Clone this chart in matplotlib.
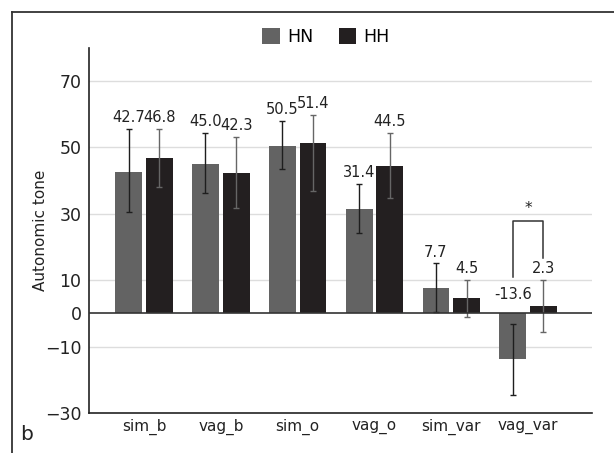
import matplotlib
matplotlib.use('Agg')
import matplotlib.pyplot as plt
from matplotlib.lines import Line2D
import numpy as np

# autonomic tone, HN vs HH groups
categories = ['sim_b', 'vag_b', 'sim_o', 'vag_o', 'sim_var', 'vag_var']
hn = [42.7, 45.0, 50.5, 31.4, 7.7, -13.6]
hn_err_hi = [12.8, 9.3, 7.5, 7.7, 7.4, 10.4]
hn_err_lo = [12.2, 8.9, 7.0, 7.1, 7.4, 10.9]
hh = [46.8, 42.3, 51.4, 44.5, 4.5, 2.3]
hh_err_hi = [8.7, 10.9, 8.3, 9.9, 5.6, 7.8]
hh_err_lo = [8.7, 10.6, 14.5, 9.8, 5.5, 8.0]
yticks = [-30, -10, 0, 10, 30, 50, 70]

plt.rcParams['font.family'] = 'DejaVu Sans'

fig = plt.figure(figsize=(6.14, 4.53), dpi=100)
ax = fig.add_axes([0.145, 0.0883, 0.819, 0.8064])

x = np.arange(len(categories))
w = 0.35
off = 0.2

ax.bar(x - off, hn, w, color='#636363', label='HN', zorder=2)
ax.bar(x + off, hh, w, color='#231f20', label='HH', zorder=2)
ax.errorbar(x - off, hn, yerr=[hn_err_lo, hn_err_hi], fmt='none',
            ecolor='#1e1e1e', elinewidth=1.0, capsize=2.2, capthick=1.0, zorder=3)
ax.errorbar(x + off, hh, yerr=[hh_err_lo, hh_err_hi], fmt='none',
            ecolor='#666666', elinewidth=1.0, capsize=2.2, capthick=1.0, zorder=3)

# value labels above the error bars
for xs, vals, hi in [(x - off, hn, hn_err_hi), (x + off, hh, hh_err_hi)]:
    for xi, v, e in zip(xs, vals, hi):
        if v >= 0:
            ax.annotate(f'{v:.1f}', (xi, v + e), xytext=(0, 4.8),
                        textcoords='offset points', ha='center', va='baseline',
                        fontsize=10.5, color='#222222')
        else:
            ax.annotate(f'{v:.1f}', (xi, 0), xytext=(0, 10),
                        textcoords='offset points', ha='center', va='baseline',
                        fontsize=10.5, color='#222222')

# significance bracket on vag_var
xl, xr = x[-1] - off, x[-1] + off
ax.plot([xl, xl, xr, xr], [10.9, 27.7, 27.7, 16.6], color='#333333', lw=1.1, zorder=3)
ax.text(x[-1], 31.5, '*', ha='center', va='center', fontsize=11, color='#222222')

ax.set_xlim(-0.716, 5.83)
ax.set_ylim(-30, 80)
ax.set_yticks(yticks)
ax.set_xticks(x)
ax.set_xticklabels(categories, fontsize=11, color='#222222')
ax.tick_params(axis='y', length=0, pad=5.5, labelsize=12.5, labelcolor='#222222')
ax.tick_params(axis='x', length=0, pad=4)

for t in [70, 50, 30, 10, -10]:
    ax.axhline(t, color='#dddddd', lw=1.0, zorder=0)
ax.axhline(0, color='#333333', lw=1.2, zorder=4)

for s in ['top', 'right']:
    ax.spines[s].set_visible(False)
ax.spines['left'].set_color('#222222')
ax.spines['bottom'].set_color('#222222')
ax.spines['left'].set_linewidth(1.2)
ax.spines['bottom'].set_linewidth(1.2)

ax.set_ylabel('Autonomic tone', fontsize=11, color='#222222')
ax.yaxis.set_label_coords(-0.082, 0.5)

fig.legend(loc='center', bbox_to_anchor=(0.531, 0.918), ncol=2, frameon=False,
           fontsize=12.5, handlelength=1.0, handleheight=1.0,
           handletextpad=0.4, columnspacing=1.5)

# outer panel frame and panel letter
fig.add_artist(Line2D([0.019, 1.0], [0.974, 0.974], transform=fig.transFigure,
                      color='#333333', lw=1.3))
fig.add_artist(Line2D([0.019, 0.019], [0.0, 0.974], transform=fig.transFigure,
                      color='#333333', lw=1.3))
fig.text(0.033, 0.028, 'b', fontsize=14.5, color='#222222')

fig.savefig('out.png', dpi=100)
